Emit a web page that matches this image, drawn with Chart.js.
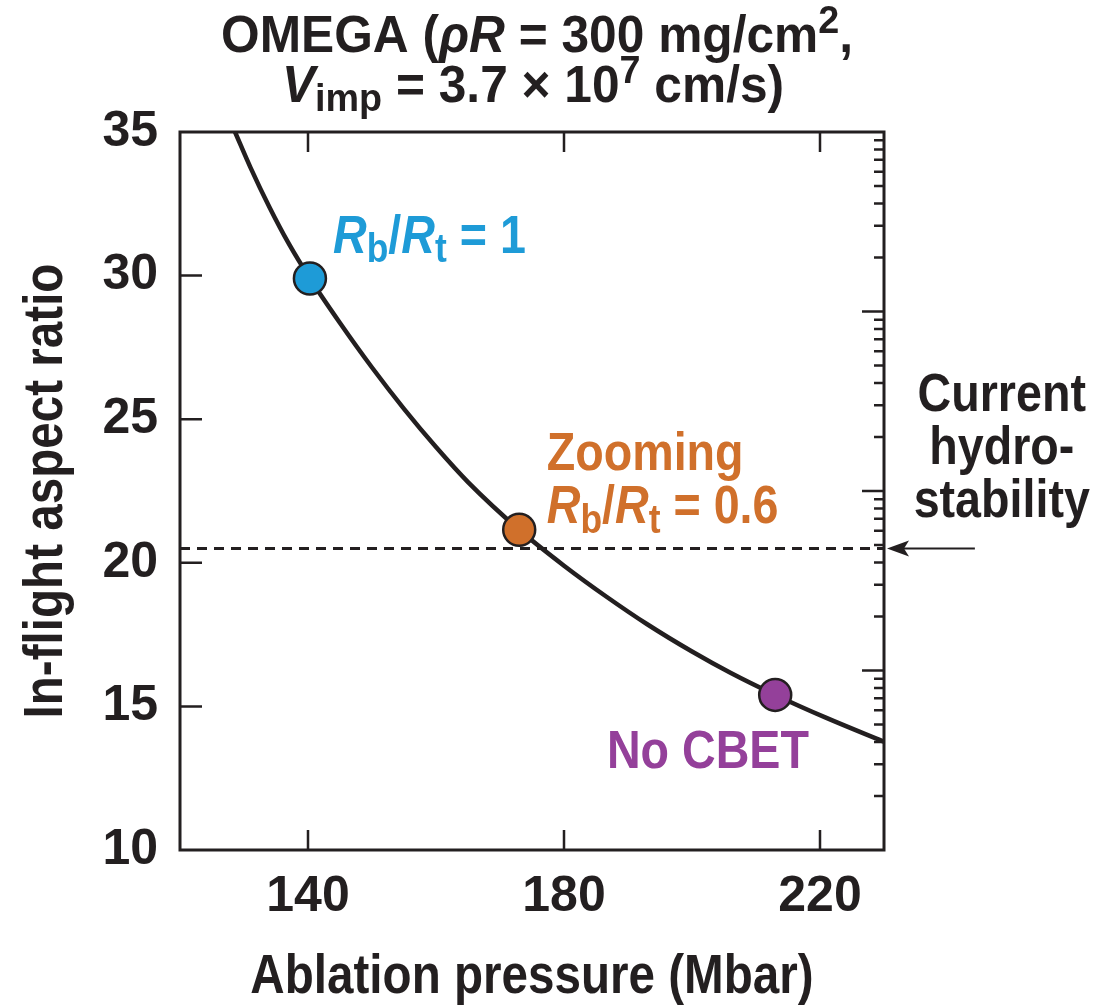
<!DOCTYPE html>
<html>
<head>
<meta charset="utf-8">
<script src="https://cdn.jsdelivr.net/npm/chart.js@4.4.1/dist/chart.umd.min.js"></script>
<style>
  html, body { margin: 0; padding: 0; background: #fff; }
  #wrap { width: 1112px; height: 1005px; position: relative; }
</style>
</head>
<body>
<div id="wrap"><canvas id="aspectChart"></canvas></div>
<script>
// In-flight aspect ratio vs ablation pressure
var curvePressure = [128.6, 131, 134, 137, 140.3, 145, 150, 155, 160, 165, 173, 180, 186.7, 193, 200, 206, 213, 221, 230];
var curveAspect   = [35.0, 33.77, 32.37, 31.11, 29.9, 28.35, 26.8, 25.36, 24.03, 22.81, 21.15, 19.9, 18.81, 17.86, 16.91, 16.17, 15.4, 14.6, 13.77];

// the three marked cases
var casePressure = [140.3, 173, 213];
var caseAspect   = [29.9, 21.15, 15.4];
var caseColors   = ['#1e9bd7', '#d0702b', '#94409a'];

var hydroLimit = 20.5;          // current hydro-stability limit

var pressureRange = [120, 230];
var aspectRange   = [10, 35];
var xTickValues   = [140, 180, 220];
var rightRange    = [0.1, 1000];
var rightDecades  = [0.1, 1, 10, 100];
var rightSteps    = [2, 3, 4, 5, 6, 7, 8, 9];

var INK = '#231f20';
var FONT = "'Liberation Sans', Arial, Helvetica, sans-serif";

// rich text: parts are [text, style] with style n / i / sub / sup
// k squeezes the text horizontally (the original uses a condensed face)
function drawRich(ctx, parts, x, y, size, align, color, k) {
    k = k || 1;
    var pieces = parts.map(function (p) {
        var small = p[1] === 'sub' || p[1] === 'sup';
        var font = (p[1] === 'i' ? 'italic ' : '') + 'bold ' + (small ? size * 0.76 : size) + 'px ' + FONT;
        ctx.font = font;
        return {
            text: p[0], font: font, w: ctx.measureText(p[0]).width,
            dy: p[1] === 'sub' ? size * 0.18 : (p[1] === 'sup' ? -size * 0.36 : 0)
        };
    });
    var total = pieces.reduce(function (s, p) { return s + p.w; }, 0);
    var start = align === 'center' ? -total / 2 : (align === 'right' ? -total : 0);
    ctx.save();
    ctx.translate(x, y);
    ctx.scale(k, 1);
    ctx.fillStyle = color;
    ctx.textAlign = 'left';
    ctx.textBaseline = 'alphabetic';
    pieces.forEach(function (p) {
        ctx.font = p.font;
        ctx.fillText(p.text, start, p.dy);
        start += p.w;
    });
    ctx.restore();
}

var titleLines = [
    [['OMEGA (', 'n'], ['\u03c1R', 'i'], [' = 300 mg/cm', 'n'], ['2', 'sup'], [',', 'n']],
    [['V', 'i'], ['imp', 'sub'], [' = 3.7 \u00d7 10', 'n'], ['7', 'sup'], [' cm/s)', 'n']]
];
var xTitle = 'Ablation pressure (Mbar)';
var yTitle = 'In-flight aspect ratio';

// notes: anchor in data units (left edge / baseline of first line)
var notes = [
    { x: 143.9, y: 30.79, align: 'left', color: caseColors[0],
      lines: [[['R', 'i'], ['b', 'sub'], ['/', 'n'], ['R', 'i'], ['t', 'sub'], [' = 1', 'n']]] },
    { x: 177.3, y: 23.23, align: 'left', color: caseColors[1],
      lines: [[['Zooming', 'n']], [['R', 'i'], ['b', 'sub'], ['/', 'n'], ['R', 'i'], ['t', 'sub'], [' = 0.6', 'n']]] },
    { x: 186.7, y: 12.86, align: 'left', color: caseColors[2],
      lines: [[['No CBET', 'n']]] },
    { x: 248.4, y: 25.29, align: 'center', color: INK,
      lines: [[['Current', 'n']], [['hydro-', 'n']], [['stability', 'n']]] }
];

var decorations = {
    id: 'decorations',
    beforeDatasetsDraw: function (chart) {
        var a = chart.chartArea, ctx = chart.ctx;
        var sx = chart.scales.x, sy = chart.scales.y, sr = chart.scales.y2;
        ctx.save();
        ctx.strokeStyle = INK;
        ctx.lineWidth = 3;
        ctx.strokeRect(a.left, a.top, a.right - a.left, a.bottom - a.top);
        ctx.lineWidth = 2.5;
        ctx.beginPath();
        sx.ticks.forEach(function (t) {
            var px = sx.getPixelForValue(t.value);
            ctx.moveTo(px, a.bottom); ctx.lineTo(px, a.bottom - 20);
            ctx.moveTo(px, a.top); ctx.lineTo(px, a.top + 20);
        });
        sy.ticks.forEach(function (t) {
            if (t.value <= sy.min || t.value >= sy.max) return;
            var py = sy.getPixelForValue(t.value);
            ctx.moveTo(a.left, py); ctx.lineTo(a.left + 22, py);
        });
        sr.ticks.forEach(function (t) {
            if (t.value <= sr.min || t.value >= sr.max) return;
            var py = sr.getPixelForValue(t.value);
            ctx.moveTo(a.right, py); ctx.lineTo(a.right - (t.major ? 22 : 10), py);
        });
        ctx.stroke();
        ctx.restore();
    },
    afterDraw: function (chart) {
        var a = chart.chartArea, ctx = chart.ctx;
        var sx = chart.scales.x, sy = chart.scales.y;
        var mid = (a.left + a.right) / 2;
        ctx.save();
        // title
        drawRich(ctx, titleLines[0], mid + 5, 52, 52, 'center', INK, 0.955);
        drawRich(ctx, titleLines[1], mid + 1, 102, 52, 'center', INK, 0.955);
        // axis titles
        drawRich(ctx, [[xTitle, 'n']], mid, 993, 56, 'center', INK, 0.85);
        ctx.save();
        ctx.translate(62, (a.top + a.bottom) / 2);
        ctx.rotate(-Math.PI / 2);
        drawRich(ctx, [[yTitle, 'n']], 0, 0, 56, 'center', INK, 0.85);
        ctx.restore();
        // notes
        notes.forEach(function (n) {
            var px = sx.getPixelForValue(n.x), py = sy.getPixelForValue(n.y);
            n.lines.forEach(function (line, i) {
                drawRich(ctx, line, px, py + i * 53, 53, n.align, n.color, 0.88);
            });
        });
        // arrow to the hydro-stability limit
        var ay = sy.getPixelForValue(hydroLimit);
        var tip = a.right + 3;
        ctx.strokeStyle = INK;
        ctx.fillStyle = INK;
        ctx.lineWidth = 2;
        ctx.beginPath();
        ctx.moveTo(sx.getPixelForValue(244.2), ay);
        ctx.lineTo(tip + 15, ay);
        ctx.stroke();
        ctx.beginPath();
        ctx.moveTo(tip, ay);
        ctx.lineTo(tip + 22, ay - 8);
        ctx.lineTo(tip + 17, ay);
        ctx.lineTo(tip + 22, ay + 8);
        ctx.closePath();
        ctx.fill();
        ctx.restore();
    }
};

var ctx = document.getElementById('aspectChart').getContext('2d');

var aspectChart = new Chart(ctx, {
    type: 'line',
    data: {
        datasets: [{
            label: 'cases',
            order: 0,
            data: casePressure.map(function (p, i) { return { x: p, y: caseAspect[i] }; }),
            showLine: false,
            pointRadius: 16,
            pointBorderWidth: 2.5,
            pointBorderColor: INK,
            pointBackgroundColor: caseColors
        }, {
            label: 'aspect ratio',
            order: 1,
            data: curvePressure.map(function (p, i) { return { x: p, y: curveAspect[i] }; }),
            borderColor: INK,
            borderWidth: 4.5,
            cubicInterpolationMode: 'monotone',
            pointRadius: 0,
            fill: false
        }, {
            label: 'hydro-stability',
            order: 2,
            data: [{ x: pressureRange[0], y: hydroLimit }, { x: pressureRange[1], y: hydroLimit }],
            borderColor: INK,
            borderWidth: 3,
            borderDash: [10, 7],
            pointRadius: 0,
            fill: false
        }]
    },
    options: {
        responsive: true,
        maintainAspectRatio: false,
        animation: false,
        events: [],
        layout: { padding: { top: 132, right: 228, left: 0, bottom: 0 } },
        plugins: { legend: { display: false }, tooltip: { enabled: false } },
        scales: {
            x: {
                type: 'linear',
                min: pressureRange[0],
                max: pressureRange[1],
                afterBuildTicks: function (scale) {
                    scale.ticks = xTickValues.map(function (v) { return { value: v }; });
                },
                afterFit: function (scale) { scale.height = 155; },
                grid: { display: false, drawTicks: false },
                border: { display: false },
                ticks: { padding: 17, color: INK, font: { family: FONT, size: 50, weight: 'bold' } }
            },
            y: {
                min: aspectRange[0],
                max: aspectRange[1],
                ticks: { stepSize: 5, padding: 22, color: INK, font: { family: FONT, size: 50, weight: 'bold' } },
                afterFit: function (scale) { scale.width = 180; },
                grid: { display: false, drawTicks: false },
                border: { display: false }
            },
            y2: {
                type: 'logarithmic',
                position: 'right',
                min: rightRange[0],
                max: rightRange[1],
                afterBuildTicks: function (scale) {
                    var t = [];
                    rightDecades.forEach(function (d) {
                        t.push({ value: d, major: true });
                        rightSteps.forEach(function (s) { t.push({ value: d * s, major: false }); });
                    });
                    scale.ticks = t;
                },
                afterFit: function (scale) { scale.width = 0; },
                grid: { display: false, drawTicks: false },
                border: { display: false },
                ticks: { display: false }
            }
        }
    },
    plugins: [decorations]
});
</script>
</body>
</html>
